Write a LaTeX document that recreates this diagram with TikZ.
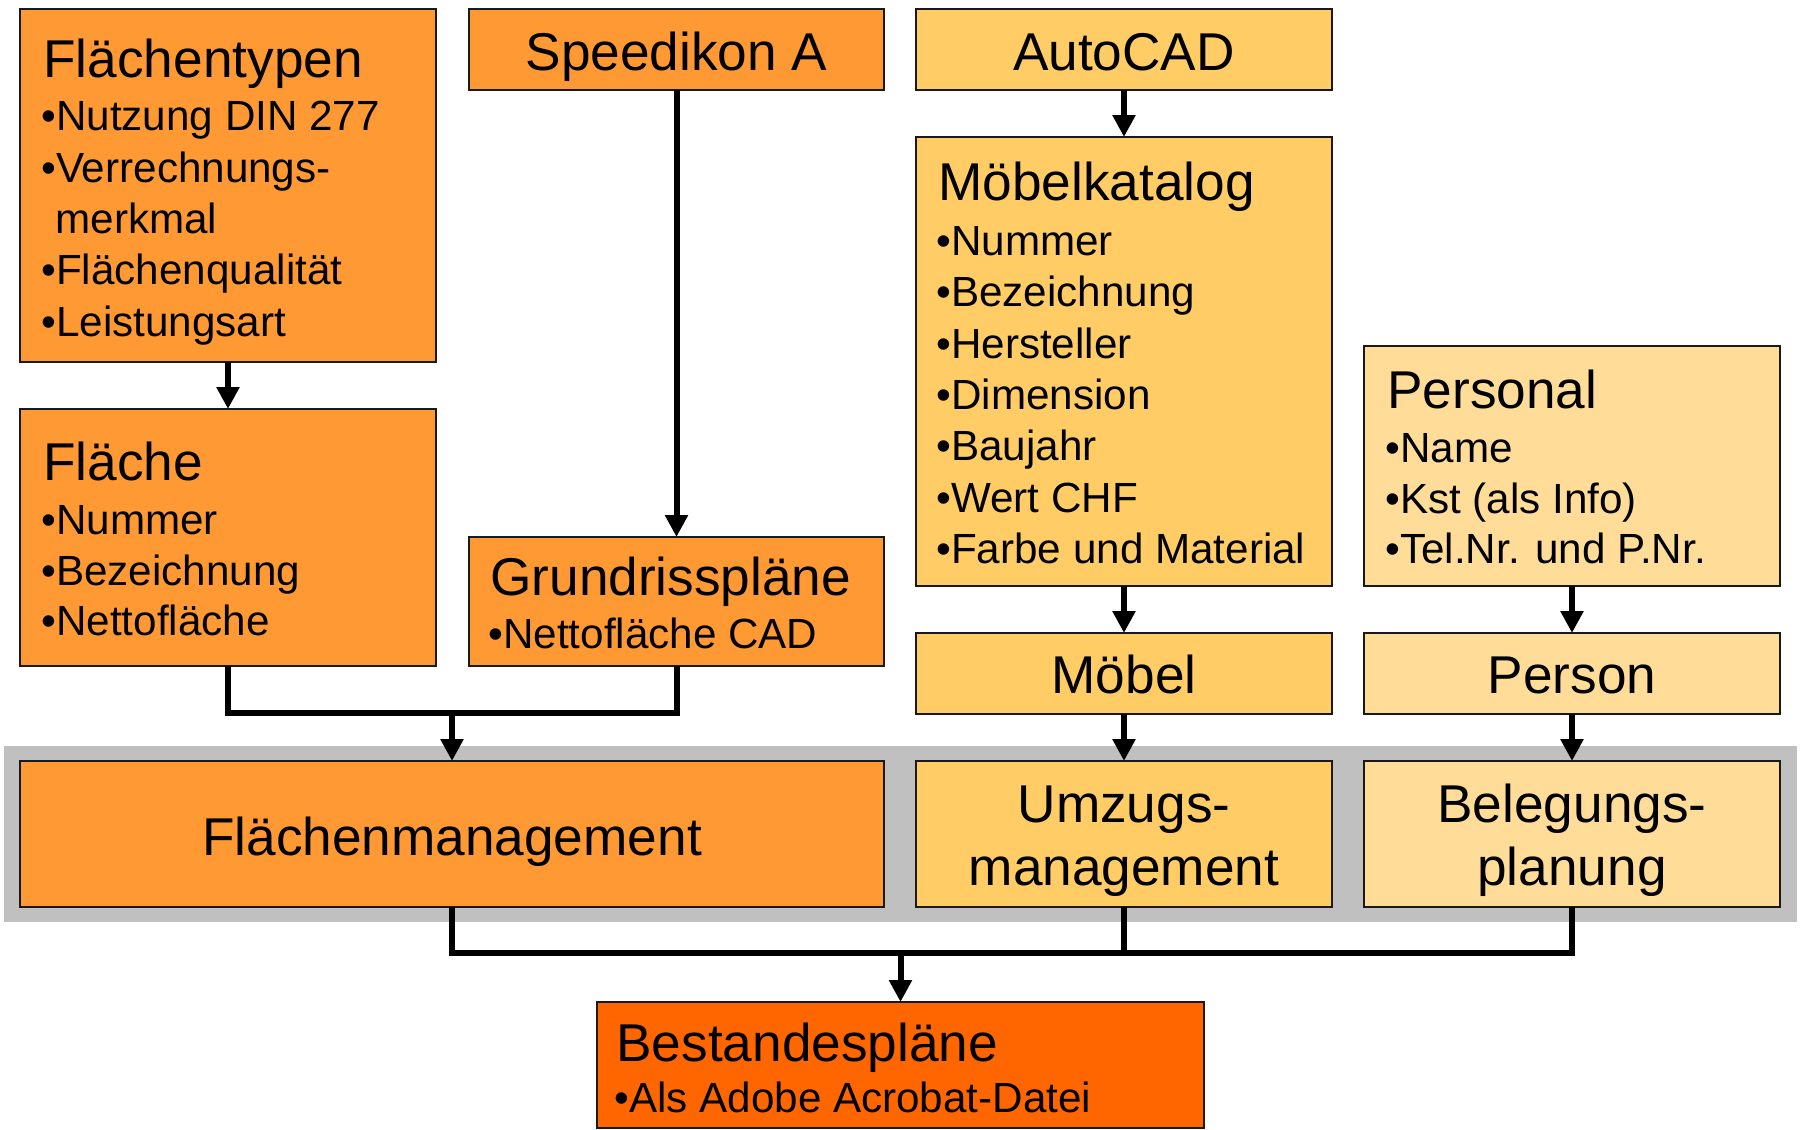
\documentclass[tikz,border=0pt]{standalone}
\usepackage{fontspec}
\setmainfont{Liberation Sans}
\usetikzlibrary{fit,arrows.meta}
\definecolor{orA}{HTML}{FF9933}
\definecolor{orB}{HTML}{FFCC66}
\definecolor{orC}{HTML}{FFDD99}
\definecolor{orD}{HTML}{FF6600}
\definecolor{band}{HTML}{C0C0C0}
\tikzset{
  box/.style={draw=black!90, line width=0.7pt, inner sep=0pt, outer sep=0pt},
  ttl/.style={anchor=base west, inner sep=0pt, font=\fontsize{26.6pt}{31pt}\selectfont},
  ttlc/.style={anchor=base, inner sep=0pt, font=\fontsize{26.6pt}{31pt}\selectfont},
  itm/.style={anchor=base west, inner sep=0pt, font=\fontsize{21.1pt}{25pt}\selectfont},
  conn/.style={line width=3pt, line join=miter},
  arr/.style={conn, -{Triangle[length=11pt,width=11pt]}, shorten >=0pt},
}
\begin{document}
\begin{tikzpicture}[x=0.5pt,y=-0.5pt]
\useasboundingbox (0,0) rectangle (1800,1130);
% gray band
\fill[band] (4,746) rectangle (1797,922);

% boxes
\node[box, fill=orA, fit={(20,9) (436,362)}] (ft) {};
\node[box, fill=orA, fit={(469,9) (884,90)}] (sp) {};
\node[box, fill=orB, fit={(916,9) (1332,90)}] (ac) {};
\node[box, fill=orB, fit={(916,137) (1332,586)}] (mk) {};
\node[box, fill=orC, fit={(1364,346) (1780,586)}] (ps) {};
\node[box, fill=orA, fit={(20,409) (436,666)}] (fl) {};
\node[box, fill=orA, fit={(469,537) (884,666)}] (gr) {};
\node[box, fill=orB, fit={(916,633) (1332,714)}] (mo) {};
\node[box, fill=orC, fit={(1364,633) (1780,714)}] (pe) {};
\node[box, fill=orA, fit={(20,761) (884,907)}] (fm) {};
\node[box, fill=orB, fit={(916,761) (1332,907)}] (um) {};
\node[box, fill=orC, fit={(1364,761) (1780,907)}] (be) {};
\node[box, fill=orD, fit={(597,1002) (1204,1128)}] (bp) {};

% texts
\node[ttl] (ftT) at (43,77) {Flächentypen};
\node[itm] (ft1) at (41,130) {•Nutzung DIN 277};
\node[itm] (ft2) at (41,182) {•Verrechnungs-};
\node[itm] (ft3) at (55,233) {merkmal};
\node[itm] (ft4) at (41,284) {•Flächenqualität};
\node[itm] (ft5) at (41,336) {•Leistungsart};

\node[ttlc] (spT) at (676.5,70) {Speedikon A};
\node[ttlc] (acT) at (1124,70) {AutoCAD};

\node[ttl] (mkT) at (938,200) {Möbelkatalog};
\node[itm] (mk1) at (936,255) {•Nummer};
\node[itm] (mk2) at (936,306) {•Bezeichnung};
\node[itm] (mk3) at (936,358) {•Hersteller};
\node[itm] (mk4) at (936,409) {•Dimension};
\node[itm] (mk5) at (936,460) {•Baujahr};
\node[itm] (mk6) at (936,512) {•Wert CHF};
\node[itm] (mk7) at (936,563) {•Farbe und Material};

\node[ttl] (psT) at (1387,408) {Personal};
\node[itm] (ps1) at (1385,462) {•Name};
\node[itm] (ps2) at (1385,513) {•Kst (als Info)};
\node[itm] (ps3) at (1385,563) {•Tel.Nr. und P.Nr.};

\node[ttl] (flT) at (43,480) {Fläche};
\node[itm] (fl1) at (41,534) {•Nummer};
\node[itm] (fl2) at (41,585) {•Bezeichnung};
\node[itm] (fl3) at (41,635) {•Nettofläche};

\node[ttl] (grT) at (490,595) {Grundrisspläne};
\node[itm] (gr1) at (488,648) {•Nettofläche CAD};

\node[ttlc] (moT) at (1124,693) {Möbel};
\node[ttlc] (peT) at (1572,693) {Person};

\node[ttlc] (fmT) at (452,855) {Flächenmanagement};
\node[ttlc] (umT1) at (1124,822) {Umzugs-};
\node[ttlc] (umT2) at (1124,885) {management};
\node[ttlc] (beT1) at (1572,822) {Belegungs-};
\node[ttlc] (beT2) at (1572,885) {planung};

\node[ttl] (bpT) at (616,1061) {Bestandespläne};
\node[itm] (bp1) at (614,1112) {•Als Adobe Acrobat-Datei};

% connectors
\draw[arr] (ft.south) -- (fl.north);
\draw[arr] (sp.south) -- (gr.north);
\draw[arr] (ac.south) -- (mk.north);
\draw[arr] (mk.south) -- (mo.north);
\draw[arr] (ps.south) -- (pe.north);
\draw[arr] (mo.south) -- (um.north);
\draw[arr] (pe.south) -- (be.north);

\coordinate (j1) at (452,713);
\draw[conn] (fl.south) -- (fl.south |- j1) -- (gr.south |- j1) -- (gr.south);
\draw[arr] (j1) -- (fm.north);

\coordinate (j2) at (900.5,953);
\draw[conn] (fm.south) -- (fm.south |- j2) -- (be.south |- j2) -- (be.south);
\draw[conn] (um.south) -- (um.south |- j2);
\draw[arr] (j2) -- (bp.north);
\end{tikzpicture}
\end{document}
